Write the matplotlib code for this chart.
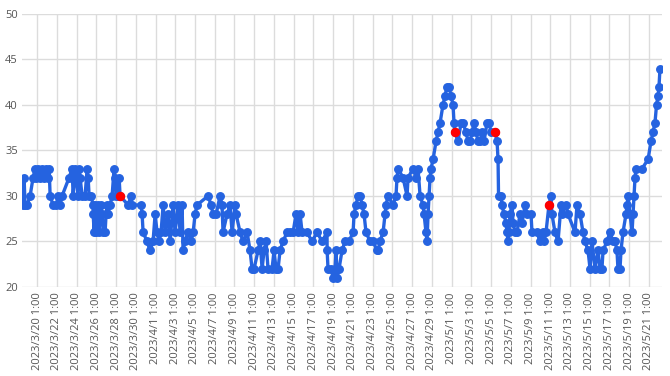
import matplotlib
matplotlib.use("Agg")
import matplotlib.pyplot as plt
from datetime import datetime, timedelta

# ---- data (day offsets from 2023/3/20 1:00, values) ----
day_offsets = [
    -1.42, -1.32, -1.22, -1.01, -0.71, -0.41, -0.20, -0.10, 0.10, 0.30,
    0.51, 0.71, 0.91, 1.11, 1.22, 1.32, 1.62, 1.93, 2.13, 2.33,
    2.53, 3.24, 3.55, 3.65, 3.85, 3.95, 4.15, 4.26, 4.36, 4.56,
    4.86, 5.07, 5.17, 5.27, 5.47, 5.67, 5.68, 5.78, 5.88, 5.98,
    6.08, 6.18, 6.28, 6.38, 6.48, 6.59, 6.69, 6.89, 6.99, 7.09,
    7.19, 7.40, 7.60, 7.80, 7.90, 8.00, 8.21, 8.31, 8.41, 9.22,
    9.52, 9.63, 10.54, 10.64, 10.74, 11.14, 11.45, 11.75, 11.96, 12.16,
    12.36, 12.56, 12.77, 12.97, 13.27, 13.48, 13.78, 13.98, 14.29, 14.49,
    14.69, 14.79, 14.99, 15.30, 15.60, 15.81, 16.01, 16.21, 17.33, 17.63,
    17.83, 18.14, 18.54, 18.74, 18.84, 19.25, 19.55, 19.76, 20.06, 20.16,
    20.57, 20.87, 21.28, 21.58, 21.78, 21.99, 22.39, 22.59, 22.80, 23.00,
    23.20, 23.40, 23.81, 24.01, 24.21, 24.42, 24.62, 24.92, 25.33, 25.63,
    25.94, 26.24, 26.44, 26.65, 26.85, 27.36, 27.86, 28.37, 28.88, 29.38,
    29.39, 29.48, 29.79, 29.99, 30.19, 30.29, 30.40, 30.60, 30.90, 31.21,
    31.61, 32.02, 32.12, 32.32, 32.52, 32.73, 32.93, 33.13, 33.33, 33.74,
    34.04, 34.45, 34.55, 34.75, 35.06, 35.26, 35.36, 35.56, 36.07, 36.37,
    36.47, 36.58, 37.08, 37.49, 37.59, 38.10, 38.40, 38.60, 38.81, 39.11,
    39.21, 39.41, 39.51, 39.62, 39.72, 39.82, 39.92, 40.12, 40.43, 40.63,
    40.83, 41.13, 41.34, 41.54, 41.74, 41.95, 42.15, 42.25, 42.35, 42.65,
    42.96, 43.16, 43.47, 43.67, 43.87, 44.07, 44.28, 44.48, 44.68, 44.88,
    45.09, 45.29, 45.59, 45.80, 46.00, 46.40, 46.61, 46.71, 46.76, 47.01,
    47.11, 47.31, 47.52, 47.62, 47.72, 47.82, 47.92, 48.13, 48.23, 48.43,
    48.63, 48.94, 49.14, 49.44, 49.65, 50.05, 50.15, 50.66, 50.96, 51.27,
    51.37, 51.57, 51.87, 52.07, 52.17, 52.48, 52.79, 53.09, 53.19, 53.60,
    53.80, 54.51, 54.71, 55.02, 55.32, 55.52, 55.83, 56.03, 56.23, 56.53,
    56.84, 57.04, 57.24, 57.35, 57.75, 58.05, 58.36, 58.56, 58.76, 58.86,
    59.07, 59.17, 59.37, 59.68, 59.78, 59.88, 60.08, 60.29, 60.39, 60.49,
    60.59, 60.69, 61.30, 61.91, 62.21, 62.41, 62.61, 62.77, 62.92, 63.02,
    63.12,
]
values = [
    29, 32, 29, 29, 30, 32, 33, 32, 33, 32,
    33, 32, 33, 32, 33, 30, 29, 29, 30, 29,
    30, 32, 33, 30, 33, 32, 30, 33, 32, 30,
    30, 33, 32, 30, 30, 29, 28, 26, 29, 26,
    28, 29, 26, 28, 29, 28, 26, 26, 28, 29,
    28, 29, 30, 33, 32, 30, 30, 32, 30, 29,
    30, 29, 29, 28, 26, 25, 24, 25, 28, 26,
    25, 26, 29, 26, 28, 25, 29, 26, 29, 26,
    29, 24, 25, 26, 25, 26, 28, 29, 30, 29,
    28, 28, 30, 29, 26, 28, 29, 26, 29, 28,
    26, 25, 26, 24, 22, 22, 24, 25, 22, 24,
    25, 22, 22, 24, 22, 22, 24, 25, 26, 26,
    26, 28, 26, 28, 26, 26, 25, 26, 25, 26,
    24, 22, 22, 21, 22, 24, 21, 22, 24, 25,
    25, 26, 28, 29, 30, 30, 29, 28, 26, 25,
    25, 24, 24, 25, 26, 28, 29, 30, 29, 30,
    32, 33, 32, 30, 32, 33, 32, 33, 30, 29,
    28, 26, 25, 28, 30, 32, 33, 34, 36, 37,
    38, 40, 41, 42, 42, 41, 40, 38, 37, 36,
    38, 38, 37, 36, 36, 37, 38, 37, 36, 36,
    37, 36, 38, 38, 37, 37, 36, 34, 30, 30,
    29, 28, 27, 26, 25, 26, 28, 29, 27, 26,
    26, 28, 27, 29, 28, 28, 26, 26, 25, 26,
    25, 26, 29, 30, 28, 26, 25, 29, 28, 29,
    28, 26, 29, 28, 26, 25, 24, 22, 25, 22,
    24, 22, 22, 24, 25, 26, 25, 25, 24, 22,
    22, 24, 26, 28, 29, 30, 28, 26, 28, 30,
    32, 33, 33, 34, 36, 37, 38, 40, 41, 42,
    44,
]
alert_offsets = [8.41, 42.35, 46.40, 51.87]
alert_values = [30, 37, 37, 29]

start = datetime(2023, 3, 20, 1, 0)
tick_count = 32  # every 2 days, 2023/3/20 .. 2023/5/21
y_ticks = [20, 25, 30, 35, 40, 45, 50]

times = [start + timedelta(days=d) for d in day_offsets]
alert_times = [start + timedelta(days=d) for d in alert_offsets]
tick_times = [start + timedelta(days=2 * k) for k in range(tick_count)]
tick_labels = [f"{t.year}/{t.month}/{t.day} {t.hour}:{t.minute:02d}" for t in tick_times]

plt.rcParams['font.family'] = ['Open Sans', 'DejaVu Sans']

fig = plt.figure(figsize=(6.7, 3.76), dpi=100)
ax = fig.add_axes([0.033, 0.237, 0.955, 0.726])

blue = '#2563E0'
ax.plot(times, values, color=blue, lw=2.4, marker='o', ms=5.4,
        markerfacecolor=blue, markeredgecolor=blue, zorder=3, solid_joinstyle='round')
ax.plot(alert_times, alert_values, linestyle='none', marker='o', ms=5.8,
        color='#FF0000', markeredgecolor='#FF0000', zorder=4)

ax.set_ylim(20, 50)
ax.set_yticks(y_ticks)
ax.set_xlim(start + timedelta(days=-1.52), start + timedelta(days=63.32))
ax.set_xticks(tick_times)
ax.set_xticklabels(tick_labels, rotation=90)

ax.grid(True, color='#dcdcdc', lw=1.0)
ax.set_axisbelow(True)
for s in ax.spines.values():
    s.set_visible(False)
ax.tick_params(axis='both', length=0, colors='#555555', labelsize=8)
ax.tick_params(axis='y', pad=3)
ax.tick_params(axis='x', pad=4)

fig.savefig('out.png', dpi=100)
